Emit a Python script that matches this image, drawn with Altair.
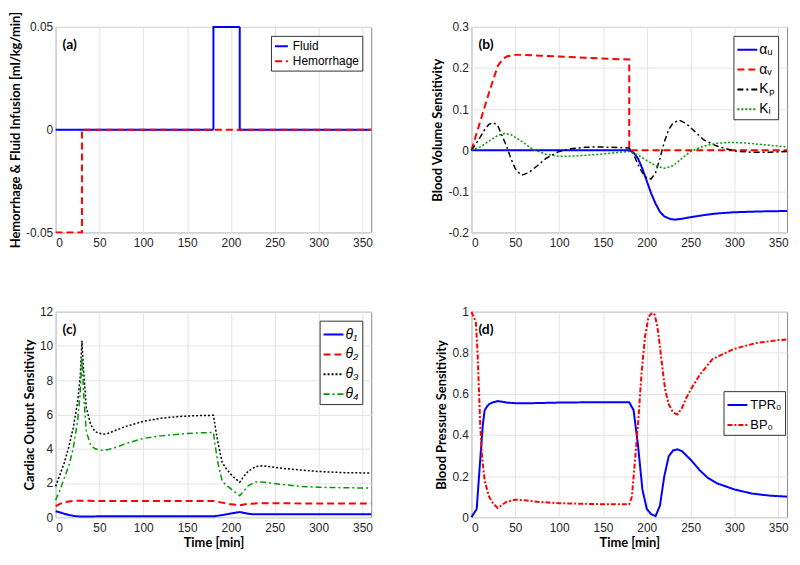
import altair as alt
import pandas as pd

# ---------------- data ----------------
# (a) inputs (step functions)
fluid_t = [0, 180, 210, 360]
fluid_v = [0, 0.05, 0, 0]
hem_t = [0, 30, 360]
hem_v = [-0.05, 0, 0]

# (b) blood volume sensitivity
au_t = [0, 180, 185, 190, 195, 200, 205, 210, 215, 220, 226, 232, 240, 250, 265, 280, 300, 330, 360]
au_v = [0, 0, -0.006, -0.02, -0.045, -0.075, -0.105, -0.13, -0.15, -0.161, -0.167, -0.169, -0.167, -0.163, -0.158, -0.154, -0.151, -0.149, -0.148]
av_t = [0, 10, 20, 30, 35, 40, 50, 60, 80, 100, 130, 160, 180, 180, 360]
av_v = [0, 0.07, 0.14, 0.205, 0.22, 0.228, 0.232, 0.232, 0.23, 0.228, 0.225, 0.222, 0.221, 0, 0]
kp_t = [0, 5, 10, 15, 20, 25, 30, 35, 40, 45, 50, 57, 65, 75, 85, 100, 115, 130, 145, 160, 175, 180, 185, 190, 195,
        200, 205, 210, 215, 220, 225, 230, 237, 245, 255, 265, 280, 300, 320, 340, 360]
kp_v = [0, 0.015, 0.032, 0.05, 0.063, 0.067, 0.06, 0.035, 0.01, -0.02, -0.045, -0.061, -0.055, -0.038, -0.02, -0.003,
        0.004, 0.007, 0.008, 0.007, 0.006, 0.005, -0.01, -0.035, -0.055, -0.068, -0.07, -0.055, -0.02, 0.02, 0.05,
        0.066, 0.073, 0.065, 0.045, 0.025, 0.01, -0.002, -0.005, -0.005, -0.003]
ki_t = [0, 10, 20, 30, 38, 45, 55, 70, 85, 100, 120, 140, 160, 180, 190, 200, 210, 220, 230, 240, 250, 265, 280, 295, 310, 330, 360]
ki_v = [0, 0.008, 0.022, 0.036, 0.041, 0.038, 0.025, 0.002, -0.01, -0.015, -0.014, -0.011, -0.007, -0.003, -0.012,
        -0.025, -0.038, -0.044, -0.038, -0.02, -0.003, 0.01, 0.017, 0.019, 0.018, 0.014, 0.008]

# (c) cardiac output sensitivity
th1_t = [0, 5, 10, 15, 20, 25, 30, 50, 100, 150, 180, 190, 200, 210, 215, 220, 225, 240, 280, 360]
th1_v = [0.35, 0.28, 0.2, 0.13, 0.08, 0.05, 0.04, 0.05, 0.05, 0.05, 0.05, 0.12, 0.22, 0.3, 0.25, 0.2, 0.17, 0.17, 0.17, 0.17]
th2_t = [0, 5, 10, 15, 20, 30, 50, 100, 150, 180, 190, 200, 210, 220, 235, 260, 300, 360]
th2_v = [0.65, 0.78, 0.87, 0.92, 0.95, 0.96, 0.94, 0.95, 0.95, 0.95, 0.85, 0.75, 0.7, 0.78, 0.82, 0.81, 0.8, 0.8]
th3_t = [0, 5, 10, 15, 20, 25, 28, 30, 32, 35, 40, 45, 50, 55, 60, 70, 80, 100, 120, 140, 160, 180, 182, 185, 190,
         195, 200, 205, 210, 215, 220, 228, 235, 245, 260, 280, 300, 330, 360]
th3_v = [1.8, 2.5, 3.2, 4.1, 5.2, 6.7, 8.2, 10.3, 8.5, 6.4, 5.4, 5.0, 4.9, 4.85, 4.9, 5.1, 5.3, 5.6, 5.78, 5.88, 5.93,
         5.95, 5.3, 4.4, 3.2, 2.8, 2.5, 2.25, 2.05, 2.4, 2.7, 2.95, 3.0, 2.95, 2.85, 2.75, 2.67, 2.6, 2.58]
th4_t = th3_t
th4_v = [1.0, 1.6, 2.3, 3.0, 4.0, 5.6, 7.2, 9.3, 7.2, 5.0, 4.2, 4.0, 3.92, 3.9, 3.95, 4.1, 4.3, 4.6, 4.75, 4.85, 4.92,
         4.95, 4.2, 3.2, 2.1, 1.85, 1.65, 1.45, 1.25, 1.55, 1.85, 2.05, 2.05, 2.0, 1.9, 1.8, 1.75, 1.72, 1.7]

# (d) blood pressure sensitivity
tpr_t = [0, 3, 6, 10, 13, 15, 18, 20, 25, 30, 35, 40, 50, 70, 100, 150, 180, 185, 190, 195, 200, 205, 210, 215, 220,
         225, 230, 235, 240, 250, 260, 270, 280, 300, 320, 340, 360]
tpr_v = [0.0, 0.02, 0.04, 0.28, 0.45, 0.52, 0.54, 0.55, 0.56, 0.565, 0.562, 0.558, 0.555, 0.555, 0.558, 0.56, 0.56,
         0.52, 0.35, 0.135, 0.04, 0.015, 0.005, 0.056, 0.2, 0.296, 0.325, 0.33, 0.322, 0.28, 0.23, 0.19, 0.165, 0.135,
         0.115, 0.105, 0.1]
bp_t = [0, 5, 7, 10, 12, 15, 20, 25, 30, 35, 40, 50, 60, 75, 100, 150, 180, 183, 186, 190, 194, 198, 202, 206, 209,
        212, 215, 218, 221, 225, 230, 235, 240, 245, 250, 260, 275, 300, 325, 350, 360]
bp_v = [1.0, 0.95, 0.8, 0.45, 0.3, 0.18, 0.1, 0.065, 0.045, 0.06, 0.075, 0.085, 0.083, 0.075, 0.068, 0.063, 0.063,
        0.1, 0.25, 0.45, 0.7, 0.88, 0.975, 0.995, 0.985, 0.93, 0.83, 0.72, 0.62, 0.55, 0.51, 0.5, 0.53, 0.58, 0.62,
        0.69, 0.77, 0.82, 0.848, 0.862, 0.865]

x_ticks = [0, 50, 100, 150, 200, 250, 300, 350]
panel_labels = ["(a)", "(b)", "(c)", "(d)"]

W, H = 318, 207


def make_df(series):
    rows = []
    for name, (t, v) in series.items():
        for i, (a, b) in enumerate(zip(t, v)):
            rows.append({"t": a, "v": b, "s": name, "i": i})
    return pd.DataFrame(rows)


def panel(series, names, colors, dashes, widths, yvals, ydomain, ytitle, xtitle, label,
          legend, interp="linear"):
    df = make_df(dict(zip(names, series)))
    base = alt.Chart(df)
    color = alt.Color("s:N", scale=alt.Scale(domain=names, range=colors), legend=legend)
    dash = alt.StrokeDash("s:N", scale=alt.Scale(domain=names, range=dashes), legend=legend)
    x = alt.X("t:Q", scale=alt.Scale(domain=[0, 360], nice=False),
              axis=alt.Axis(values=x_ticks, title=xtitle, labelPadding=5, titlePadding=4))
    y = alt.Y("v:Q", scale=alt.Scale(domain=ydomain, nice=False, zero=False),
              axis=alt.Axis(values=yvals, title=ytitle, labelExpr="'' + datum.value"))
    layers = []
    for n, w in zip(names, widths):
        layers.append(
            base.transform_filter(alt.datum.s == n)
            .mark_line(strokeWidth=w, interpolate=interp)
            .encode(x=x, y=y, color=color, strokeDash=dash, order="i:Q")
        )
    txt = alt.Chart(pd.DataFrame({"l": [label]})).mark_text(
        font="Lato", fontSize=14, fontWeight="bold", align="left", baseline="middle", color="black"
    ).encode(x=alt.value(7), y=alt.value(18), text="l:N")
    return alt.layer(*layers, txt).properties(width=W, height=H)


blue, red, black, green = "#0000ff", "#ff0000", "#000000", "#009900"
solid, dashed, dashdot, dotted = [1, 0], [7, 4], [6, 3, 2, 3], [2, 2]

pa = panel([(fluid_t, fluid_v), (hem_t, hem_v)], ["Fluid", "Hemorrhage"], [blue, red], [solid, dashed],
           [2, 2], [-0.05, 0, 0.05], [-0.05, 0.05], "Hemorrhage & Fluid Infusion [ml/kg/min]", None,
           panel_labels[0],
           alt.Legend(title=None, orient="top-right", offset=9, symbolSize=169, rowPadding=1, padding=3),
           interp="step-after")

pb = panel([(au_t, au_v), (av_t, av_v), (kp_t, kp_v), (ki_t, ki_v)], ["αᵤ", "αᵥ", "Kₚ", "Kᵢ"],
           [blue, red, black, green], [solid, dashed, dashdot, dotted], [2, 2, 1.5, 1.5],
           [-0.2, -0.1, 0, 0.1, 0.2, 0.3], [-0.2, 0.3], "Blood Volume Sensitivity", None, panel_labels[1],
           alt.Legend(title=None, orient="top-right", offset=9, symbolSize=400, labelFontSize=14,
                      padding=3, labelOffset=1))

pc = panel([(th1_t, th1_v), (th2_t, th2_v), (th3_t, th3_v), (th4_t, th4_v)], ["θ₁", "θ₂", "θ₃", "θ₄"],
           [blue, red, black, green], [solid, dashed, dotted, dashdot], [2, 2, 1.5, 1.5],
           [0, 2, 4, 6, 8, 10, 12], [0, 12], "Cardiac Output Sensitivity", "Time [min]", panel_labels[2],
           alt.Legend(title=None, orient="top-right", offset=9, symbolSize=400, labelFontSize=14,
                      labelFontStyle="italic", padding=3, labelOffset=1))

pd_ = panel([(tpr_t, tpr_v), (bp_t, bp_v)], ["TPR₀", "BP₀"], [blue, red], [solid, [5, 2, 2, 2]], [2, 2],
            [0, 0.2, 0.4, 0.6, 0.8, 1], [0, 1], "Blood Pressure Sensitivity", "Time [min]", panel_labels[3],
            alt.Legend(title=None, orient="none", legendX=254, legendY=80, symbolSize=400, labelFontSize=13,
                       padding=3, labelOffset=2))

chart = (
    alt.concat(pa, pb, pc, pd_, columns=2, spacing={"row": 80, "column": 101}, bounds="flush")
    .resolve_scale(x="independent", y="independent", color="independent", strokeDash="independent")
    .resolve_legend(color="independent", strokeDash="independent")
    .properties(padding={"left": 1, "top": 0, "right": 0, "bottom": 0}, background="white")
    .configure_view(stroke="#8c8c8c", strokeWidth=1)
    .configure_axis(grid=True, gridColor="#e3e3e3", gridWidth=1, domain=False, ticks=False,
                    labelFont="Liberation Sans", labelFontSize=12, labelColor="#262626", labelPadding=3,
                    titleFont="Lato", titleFontSize=13, titleFontWeight="bold", titleColor="black",
                    titlePadding=3)
    .configure_legend(strokeColor="#333333", fillColor="white", padding=5, cornerRadius=0,
                      labelFont="Liberation Sans", labelFontSize=12, labelColor="black",
                      symbolType="stroke", symbolStrokeWidth=2, rowPadding=2)
)

chart.save("out.html", embed_options={"renderer": "svg", "actions": False})
